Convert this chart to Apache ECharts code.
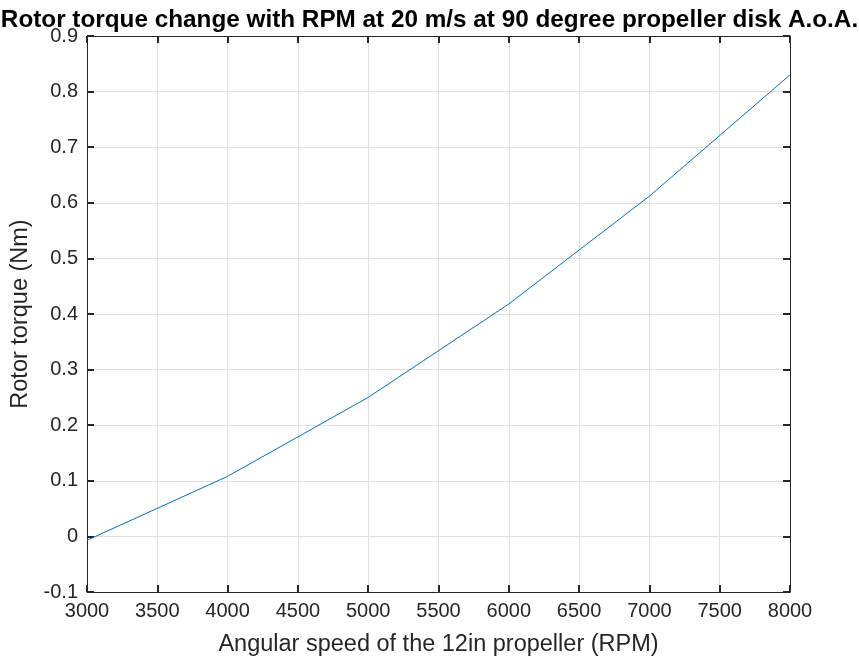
<!DOCTYPE html>
<html>
<head>
<meta charset="utf-8">
<script src="https://cdn.jsdelivr.net/npm/echarts@6/dist/echarts.min.js"></script>
<style>
  html, body { margin: 0; padding: 0; background: #fff; }
  #chart { width: 859px; height: 664px; }
</style>
</head>
<body>
<div id="chart"></div>
<script>
// RPM values and measured rotor torque
var rpm = [3000, 4000, 5000, 6000, 7000, 8000];
var torque = [-0.007, 0.108, 0.25, 0.418, 0.612, 0.83];

var chart = echarts.init(document.getElementById('chart'));

var axisCol = '#262626';
var font = 'Liberation Sans, Arial, sans-serif';

function xAxisCfg(pos, showLabel) {
  return {
    type: 'value', position: pos, min: 3000, max: 8000, interval: 500,
    name: showLabel ? 'Angular speed of the 12in propeller (RPM)' : '',
    nameLocation: 'middle', nameGap: 41,
    nameTextStyle: { color: axisCol, fontSize: 23.5, fontFamily: font },
    axisLine: { show: true, onZero: false, lineStyle: { color: axisCol, width: 1 } },
    axisTick: { show: true, inside: true, length: 7, lineStyle: { color: axisCol, width: 2 } },
    axisLabel: {
      show: showLabel, color: axisCol, fontSize: 20, fontFamily: font, margin: 9,
      formatter: function (v) { return String(v); }
    },
    splitLine: { show: showLabel, lineStyle: { color: '#e0e0e0', width: 1 } }
  };
}
function yAxisCfg(pos, showLabel) {
  return {
    type: 'value', position: pos, min: -0.1, max: 0.9, interval: 0.1,
    name: showLabel ? 'Rotor torque (Nm)' : '',
    nameLocation: 'middle', nameGap: 50, nameRotate: 90,
    nameTextStyle: { color: axisCol, fontSize: 23.5, fontFamily: font },
    axisLine: { show: true, onZero: false, lineStyle: { color: axisCol, width: 1 } },
    axisTick: { show: true, inside: true, length: 7, lineStyle: { color: axisCol, width: 2 } },
    axisLabel: {
      show: showLabel, color: axisCol, fontSize: 20, fontFamily: font, margin: 9,
      formatter: function (v) { return String(Math.round(v * 10) / 10); }
    },
    splitLine: { show: showLabel, lineStyle: { color: '#e0e0e0', width: 1 } }
  };
}

chart.setOption({
  animation: false,
  backgroundColor: '#fff',
  title: {
    text: 'Rotor torque change with RPM at 20 m/s at 90 degree propeller disk A.o.A.',
    left: 'center', top: 3,
    textStyle: { color: '#000', fontSize: 24.3, fontWeight: 'bold', fontFamily: font }
  },
  grid: { left: 87, right: 69, top: 36, bottom: 72 },
  xAxis: [xAxisCfg('bottom', true), xAxisCfg('top', false)],
  yAxis: [yAxisCfg('left', true), yAxisCfg('right', false)],
  series: [{
    type: 'line',
    data: rpm.map(function (r, i) { return [r, torque[i]]; }),
    showSymbol: false,
    lineStyle: { color: '#0072BD', width: 1 },
    itemStyle: { color: '#0072BD' }
  }]
});
</script>
</body>
</html>
